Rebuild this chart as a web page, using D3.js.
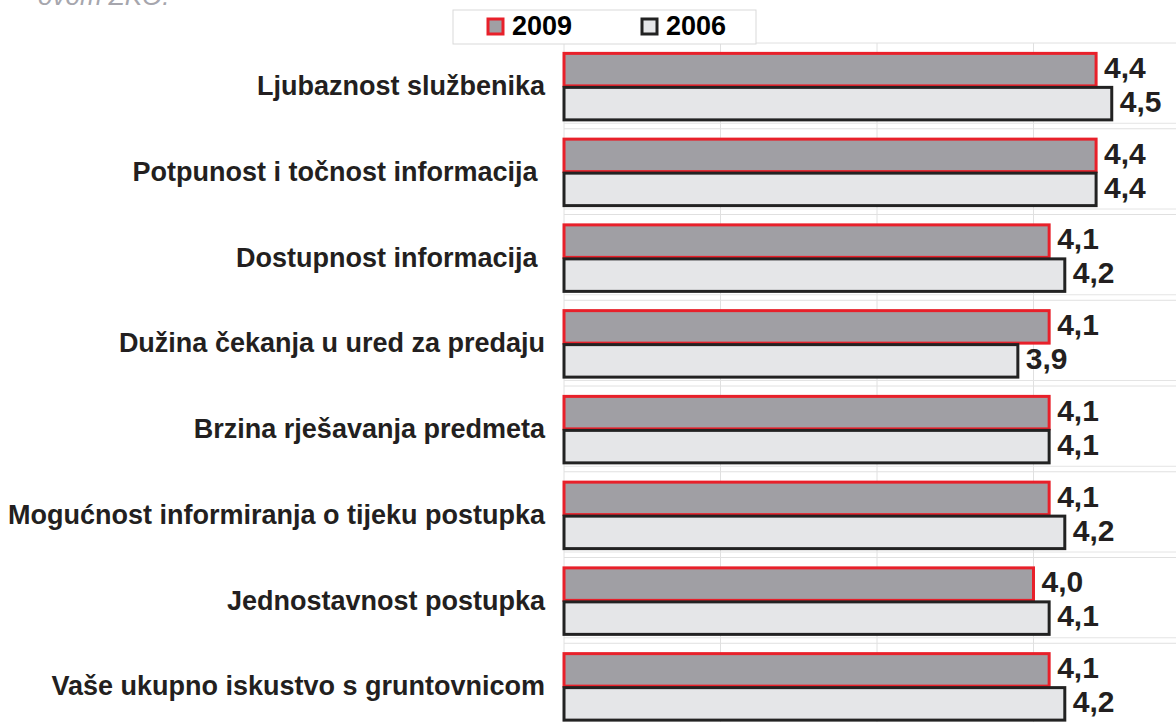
<!DOCTYPE html>
<html>
<head>
<meta charset="utf-8">
<script src="https://cdn.jsdelivr.net/npm/d3@7.9.0/dist/d3.min.js"></script>
<style>
  html, body { margin: 0; padding: 0; background: #fff; }
  svg { display: block; }
</style>
</head>
<body>
<svg id="chart"></svg>
<script>
// categories (top to bottom) and the two survey years
const categories = [
  "Ljubaznost službenika",
  "Potpunost i točnost informacija ",
  "Dostupnost informacija ",
  "Dužina čekanja u ured za predaju",
  "Brzina rješavanja predmeta",
  "Mogućnost informiranja o tijeku postupka",
  "Jednostavnost postupka",
  "Vaše ukupno iskustvo s gruntovnicom"
];
const values2009 = [4.4, 4.4, 4.1, 4.1, 4.1, 4.1, 4.0, 4.1];
const values2006 = [4.5, 4.4, 4.2, 3.9, 4.1, 4.2, 4.1, 4.2];
const seriesNames = ["2009", "2006"];
const xTicks = [1, 2, 3, 4, 5];

const width = 1176, height = 722;
const svg = d3.select("#chart").attr("width", width).attr("height", height);

const x = d3.scaleLinear().domain([1, 5]).range([564, 1190]);
const y = d3.scaleBand().domain(categories).range([43, 729])
  .paddingInner(0.207).paddingOuter(0.1035);
const sub = d3.scaleBand().domain(seriesNames).range([0, y.bandwidth()]);

const styles = {
  "2009": { fill: "#a09fa4", stroke: "#e8202a" },
  "2006": { fill: "#e5e6e8", stroke: "#222222" }
};

// cut-off caption at the very top
svg.append("text")
  .attr("x", 38).attr("y", 5)
  .attr("font-family", "Liberation Sans, Arial, sans-serif")
  .attr("font-style", "italic")
  .attr("font-size", 26)
  .attr("fill", "#a6a6ad")
  .text("ovom ZKO.");

// gridlines
const grid = svg.append("g");
grid.selectAll("line.v")
  .data(xTicks)
  .enter().append("line")
  .attr("class", "v")
  .attr("x1", d => x(d)).attr("x2", d => x(d))
  .attr("y1", 43).attr("y2", height)
  .attr("stroke", "#e0e0e0").attr("stroke-width", 1);

const bounds = d3.range(categories.length + 1).map(i => 43 + i * y.step());
grid.selectAll("line.h")
  .data(bounds)
  .enter().append("line")
  .attr("class", "h")
  .attr("x1", x(1)).attr("x2", width)
  .attr("y1", d => d).attr("y2", d => d)
  .attr("stroke", "#e0e0e0").attr("stroke-width", 1);
grid.selectAll("line.h2")
  .data(bounds.slice(1))
  .enter().append("line")
  .attr("class", "h2")
  .attr("x1", x(1)).attr("x2", width)
  .attr("y1", d => d - 5.5).attr("y2", d => d - 5.5)
  .attr("stroke", "#e4e4e4").attr("stroke-width", 1);

// bars
const rows = categories.map((c, i) => ({ cat: c, v2009: values2009[i], v2006: values2006[i] }));

seriesNames.forEach(s => {
  const key = "v" + s;
  const g = svg.append("g");
  g.selectAll("rect")
    .data(rows)
    .enter().append("rect")
    .attr("x", x(1))
    .attr("y", d => y(d.cat) + sub(s) + 1.5)
    .attr("width", d => x(d[key]) - x(1))
    .attr("height", sub.bandwidth() - 1.5)
    .attr("fill", styles[s].fill)
    .attr("stroke", styles[s].stroke)
    .attr("stroke-width", 3);

  g.selectAll("text")
    .data(rows)
    .enter().append("text")
    .attr("x", d => x(d[key]) + 8)
    .attr("y", d => y(d.cat) + sub(s) + sub.bandwidth() / 2 + 1)
    .attr("dominant-baseline", "middle")
    .attr("font-family", "Liberation Sans Narrow, Arial Narrow, sans-serif")
    .attr("font-weight", "bold")
    .attr("font-size", 30)
    .attr("fill", "#231f20")
    .text(d => d3.format(".1f")(d[key]).replace(".", ","));
});

// category labels
svg.append("g").selectAll("text")
  .data(categories)
  .enter().append("text")
  .attr("x", 545)
  .attr("y", d => y(d) + y.bandwidth() / 2 + 2)
  .attr("text-anchor", "end")
  .attr("dominant-baseline", "middle")
  .attr("font-family", "Liberation Sans, Arial, sans-serif")
  .attr("font-weight", "bold")
  .attr("font-size", 27)
  .attr("fill", "#231f20")
  .attr("xml:space", "preserve")
  .style("white-space", "pre")
  .text(d => d);

// legend
const legend = svg.append("g");
legend.append("rect")
  .attr("x", 453).attr("y", 10).attr("width", 303).attr("height", 34)
  .attr("fill", "#fff").attr("stroke", "#d9d9d9").attr("stroke-width", 1);
const legendX = { "2009": 488, "2006": 642 };
seriesNames.forEach(s => {
  legend.append("rect")
    .attr("x", legendX[s]).attr("y", 19).attr("width", 15).attr("height", 15)
    .attr("fill", styles[s].fill).attr("stroke", styles[s].stroke).attr("stroke-width", 3);
  legend.append("text")
    .attr("x", legendX[s] + 24).attr("y", 28)
    .attr("dominant-baseline", "middle")
    .attr("font-family", "Liberation Sans, Arial, sans-serif")
    .attr("font-weight", "bold")
    .attr("font-size", 27)
    .attr("fill", "#000")
    .text(s);
});
</script>
</body>
</html>
